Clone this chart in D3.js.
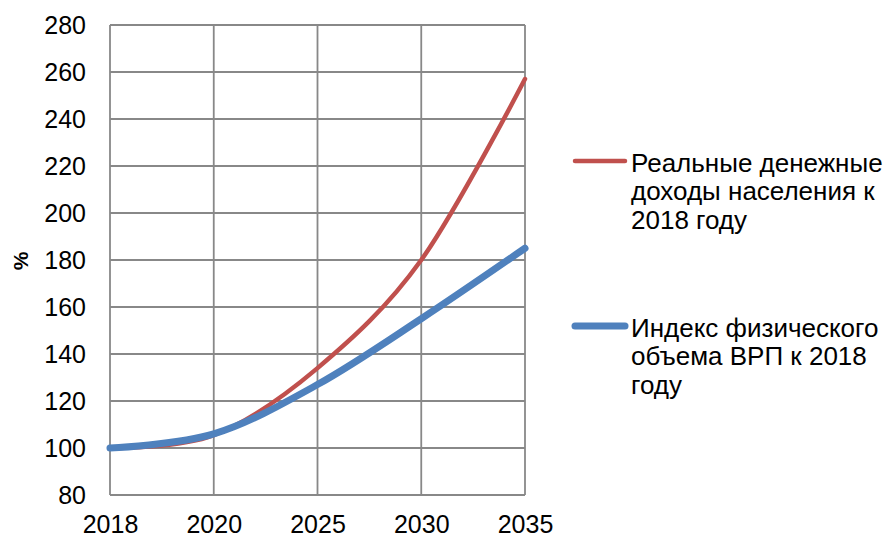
<!DOCTYPE html>
<html>
<head>
<meta charset="utf-8">
<script src="https://cdn.jsdelivr.net/npm/d3@7"></script>
<style>
  body { margin: 0; background: #fff; }
  svg text { font-family: "Liberation Sans", Arial, sans-serif; fill: #000; }
</style>
</head>
<body>
<div id="chart"></div>
<script>
const years = ["2018", "2020", "2025", "2030", "2035"];
const incomes = [100, 105.5, 134, 180, 257];
const grp = [100, 106, 127, 155, 185];
const yTicks = [80, 100, 120, 140, 160, 180, 200, 220, 240, 260, 280];
const seriesNames = [
  ["Реальные денежные", "доходы населения к", "2018 году"],
  ["Индекс физического", "объема ВРП к 2018", "году"]
];
const colors = ["#c0504d", "#4f81bd"];
const widths = [4.5, 7];

const svg = d3.select("#chart").append("svg")
  .attr("width", 885)
  .attr("height", 537);

const xScale = d3.scalePoint()
  .domain(years)
  .range([110, 525]);

const yScale = d3.scaleLinear()
  .domain([80, 280])
  .range([495, 25]);

// grid
svg.append("g").selectAll("line.h")
  .data(yTicks)
  .join("line")
  .attr("x1", 110).attr("x2", 525)
  .attr("y1", d => yScale(d)).attr("y2", d => yScale(d))
  .attr("stroke", "#888").attr("stroke-width", 1.8);

svg.append("g").selectAll("line.v")
  .data(years)
  .join("line")
  .attr("x1", d => xScale(d)).attr("x2", d => xScale(d))
  .attr("y1", 25).attr("y2", 495)
  .attr("stroke", "#888").attr("stroke-width", 1.8);

// axes labels
const yAxis = svg.append("g")
  .attr("transform", "translate(110,0)")
  .call(d3.axisLeft(yScale).tickValues(yTicks).tickSize(0).tickPadding(24));
yAxis.select(".domain").remove();
yAxis.selectAll("text")
  .style("font-size", "25px")
  .style("font-family", "Liberation Sans, Arial, sans-serif")
  .attr("fill", "#000");

const xAxis = svg.append("g")
  .attr("transform", "translate(0,495)")
  .call(d3.axisBottom(xScale).tickSize(0).tickPadding(20));
xAxis.select(".domain").remove();
xAxis.selectAll("text")
  .style("font-size", "25px")
  .style("font-family", "Liberation Sans, Arial, sans-serif")
  .attr("fill", "#000");

svg.append("text")
  .attr("transform", "translate(28,261) rotate(-90)")
  .attr("text-anchor", "middle")
  .style("font-size", "21px")
  .style("font-weight", "bold")
  .text("%");

// lines
const line = d3.line()
  .x((d, i) => xScale(years[i]))
  .y(d => yScale(d))
  .curve(d3.curveCardinal.tension(0));

[incomes, grp].forEach((vals, k) => {
  svg.append("path")
    .attr("d", line(vals))
    .attr("fill", "none")
    .attr("stroke", colors[k])
    .attr("stroke-width", widths[k])
    .attr("stroke-linecap", "round");
});

// legend
const legendY = [161, 326];
seriesNames.forEach((lines, k) => {
  svg.append("line")
    .attr("x1", 575).attr("x2", 625)
    .attr("y1", legendY[k]).attr("y2", legendY[k])
    .attr("stroke", colors[k])
    .attr("stroke-width", widths[k])
    .attr("stroke-linecap", "round");
  lines.forEach((t, j) => {
    svg.append("text")
      .attr("x", 631)
      .attr("y", legendY[k] + 10.5 + j * 28.5)
      .style("font-size", "26px")
      .text(t);
  });
});
</script>
</body>
</html>
